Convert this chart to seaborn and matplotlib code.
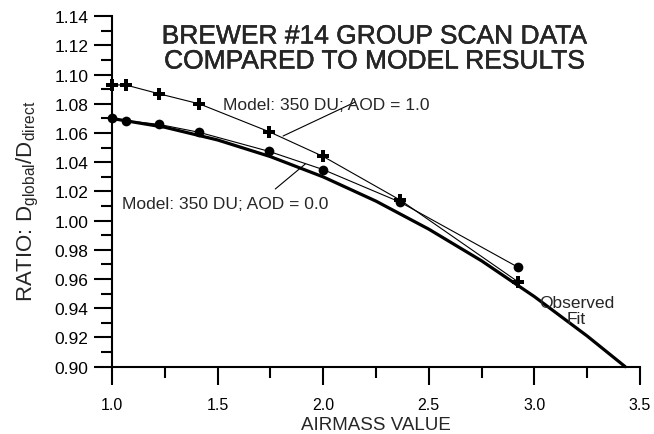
import numpy as np
import pandas as pd
import matplotlib
matplotlib.use("Agg")
import matplotlib.pyplot as plt
import matplotlib.patheffects as pe
import seaborn as sns
from matplotlib.ticker import MultipleLocator, FormatStrFormatter

# ---- data ----
airmass = [1.0, 1.064, 1.221, 1.414, 1.743, 2.0, 2.366, 2.924]
model_aod10 = [1.093, 1.093, 1.087, 1.080, 1.061, 1.044, 1.014, 0.958]
model_aod00 = [1.070, 1.0685, 1.066, 1.0605, 1.0475, 1.035, 1.0126, 0.968]
fit_x = [1.0, 1.25, 1.5, 1.75, 2.0, 2.25, 2.5, 2.75, 3.0, 3.25, 3.43]
fit_y = [1.070, 1.064, 1.0553, 1.0439, 1.030, 1.0134, 0.9942, 0.9725, 0.948, 0.921, 0.900]

title_text = "BREWER #14 GROUP SCAN DATA\nCOMPARED TO MODEL RESULTS"
label_aod10 = "Model: 350 DU; AOD = 1.0"
label_aod00 = "Model: 350 DU; AOD = 0.0"
label_fit = "Observed\nFit"
xlabel = "AIRMASS VALUE"
ylabel = r"RATIO: D$_{\mathrm{global}}$/D$_{\mathrm{direct}}$"

sns.set_style("ticks")
plt.rcParams["font.family"] = ["Liberation Sans", "DejaVu Sans"]
plt.rcParams["mathtext.fontset"] = "custom"
plt.rcParams["mathtext.rm"] = "Liberation Sans"
plt.rcParams["mathtext.it"] = "Liberation Sans"

heavy = [pe.withStroke(linewidth=0.3, foreground="black")]

fig = plt.figure(figsize=(6.54, 4.35), dpi=100)
ax = fig.add_axes([112/654, 1 - 367.7/435, (640 - 112)/654, (367.7 - 17.3)/435])

df_fit = pd.DataFrame({"x": fit_x, "y": fit_y})
df10 = pd.DataFrame({"x": airmass, "y": model_aod10})
df00 = pd.DataFrame({"x": airmass, "y": model_aod00})

sns.lineplot(data=df_fit, x="x", y="y", ax=ax, color="black", linewidth=2.3,
             sort=False, estimator=None, clip_on=False)
sns.lineplot(data=df10, x="x", y="y", ax=ax, color="black", linewidth=0.8,
             marker="P", markersize=8.5, markeredgewidth=0, markerfacecolor="black",
             sort=False, estimator=None, clip_on=False)
sns.lineplot(data=df00, x="x", y="y", ax=ax, color="black", linewidth=0.8,
             marker="o", markersize=7, markeredgewidth=0, markerfacecolor="black",
             sort=False, estimator=None, clip_on=False)

ax.set_xlim(1.0, 3.5)
ax.set_ylim(0.90, 1.14)
ax.xaxis.set_major_locator(MultipleLocator(0.5))
ax.xaxis.set_minor_locator(MultipleLocator(0.25))
ax.yaxis.set_major_locator(MultipleLocator(0.02))
ax.yaxis.set_minor_locator(MultipleLocator(0.01))
ax.xaxis.set_major_formatter(FormatStrFormatter("%.1f"))
ax.yaxis.set_major_formatter(FormatStrFormatter("%.2f"))

for s in ["top", "right"]:
    ax.spines[s].set_visible(False)
for s in ["left", "bottom"]:
    ax.spines[s].set_linewidth(1.5)
    ax.spines[s].set_color("black")

ax.tick_params(which="major", direction="out", length=13, width=1.5, colors="black")
ax.tick_params(which="minor", direction="out", length=8, width=1.5, colors="black")
ax.tick_params(axis="x", which="major", pad=9, labelsize=11.5)
ax.tick_params(axis="y", which="major", pad=4, labelsize=12.5)

ax.set_xlabel(xlabel, fontsize=13.5)
ax.xaxis.set_label_coords(0.5, -0.14)
ax.set_ylabel(ylabel, fontsize=16)
ax.yaxis.set_label_coords(-0.135, 0.474)

# annotations
ax.text(2.014, 1.0798, label_aod10, fontsize=12.5, ha="center", va="center")
ax.text(1.538, 1.0121, label_aod00, fontsize=12.5, ha="center", va="center")
ax.text(3.20, 0.9387, label_fit, fontsize=12.5, ha="center", va="center",
        linespacing=1.1)
ax.plot([1.810, 2.152], [1.058, 1.0813], color="black", linewidth=0.8)
ax.plot([1.773, 1.915], [1.0217, 1.0388], color="black", linewidth=0.8)

fig.text(374/654, 1 - 50/435, title_text, fontsize=19, ha="center", va="center",
         linespacing=1.05, path_effects=heavy)

fig.savefig("out.png", dpi=100)
